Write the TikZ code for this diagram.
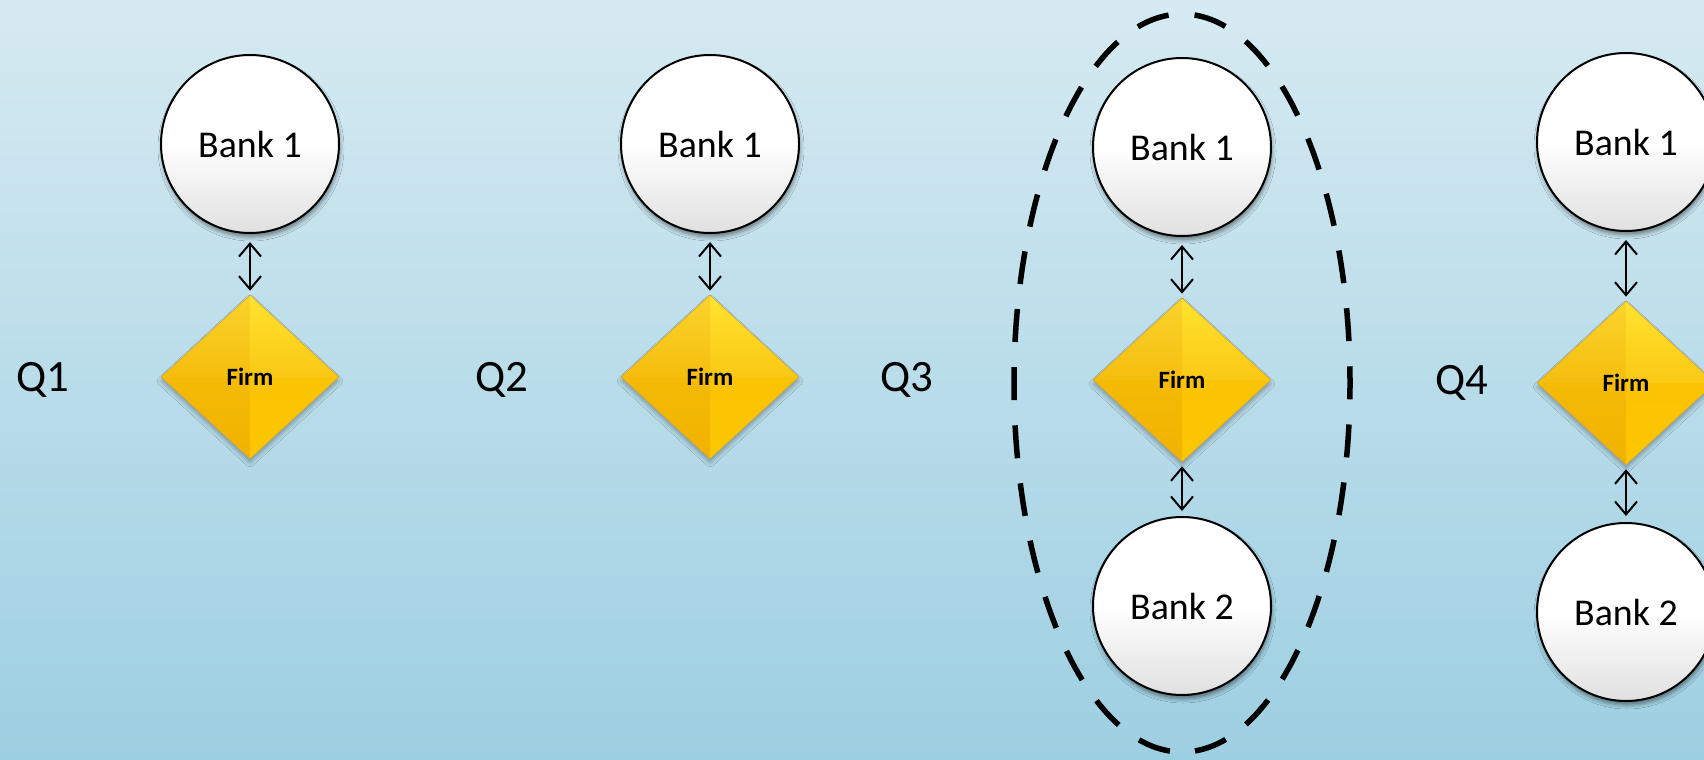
\documentclass[tikz,border=0pt]{standalone}
\usepackage{fontspec}
\setmainfont{Carlito}
\usetikzlibrary{shapes.geometric,arrows.meta,shadows.blur}

\definecolor{bgtop}{RGB}{214,234,242}
\definecolor{bgbot}{RGB}{157,207,226}
\definecolor{bankgrey}{RGB}{224,224,224}
\definecolor{goldedge}{RGB}{200,165,70}
\definecolor{goldbase}{RGB}{248,192,10}
\definecolor{tlA}{RGB}{251,212,44}
\definecolor{tlB}{RGB}{245,189,14}
\definecolor{trA}{RGB}{255,228,48}
\definecolor{trB}{RGB}{250,200,20}
\definecolor{blA}{RGB}{244,186,6}
\definecolor{blB}{RGB}{240,178,0}
\definecolor{brA}{RGB}{250,196,6}
\definecolor{brB}{RGB}{252,198,0}

\tikzset{
  bank/.style={circle, draw=black, line width=2bp, minimum size=178bp,
    inner sep=0pt, top color=white, bottom color=bankgrey, middle color=white,
    font=\fontsize{38}{42}\selectfont,
    blur shadow={shadow xshift=1bp, shadow yshift=-4bp,
      shadow blur radius=4bp, shadow opacity=45}},
  firm/.style={diamond, minimum width=178bp, minimum height=164bp,
    inner sep=0pt, fill=goldbase, draw=goldedge, line width=0.6bp,
    font=\bfseries\fontsize{25}{28}\selectfont,
    blur shadow={shadow xshift=0bp, shadow yshift=-4bp,
      shadow blur radius=4bp, shadow opacity=30},
    path picture={
      \coordinate (pw) at (path picture bounding box.west);
      \coordinate (pe) at (path picture bounding box.east);
      \coordinate (pn) at (path picture bounding box.north);
      \coordinate (ps) at (path picture bounding box.south);
      \coordinate (pc) at (path picture bounding box.center);
      \shade[top color=tlA, bottom color=tlB] (pw) -- (pn) -- (pc) -- cycle;
      \shade[top color=trA, bottom color=trB] (pn) -- (pe) -- (pc) -- cycle;
      \shade[top color=blA, bottom color=blB] (pw) -- (pc) -- (ps) -- cycle;
      \shade[top color=brA, bottom color=brB] (pc) -- (pe) -- (ps) -- cycle;
    }},
  qlabel/.style={font=\fontsize{45}{50}\selectfont},
  biarrow/.style={line width=2bp,
    {Straight Barb[length=13bp,width=22bp]}-{Straight Barb[length=13bp,width=22bp]},
    shorten <=8bp, shorten >=4bp},
  groupring/.style={draw=black, line width=5.5bp,
    dash pattern=on 33bp off 25.2bp, dash phase=45.6bp}
}

\begin{document}
\begin{tikzpicture}[x=1bp, y=-1bp]
  % canvas and background
  \useasboundingbox (0,0) rectangle (1704,760);
  \clip (0,0) rectangle (1704,760);
  \shade[top color=bgtop, bottom color=bgbot] (0,0) rectangle (1704,760);

  % Q1: one bank, one firm
  \node[qlabel] (q1) at (43,380) {Q1};
  \node[bank] (q1b1) at (250,144) {Bank 1};
  \node[firm] (q1f) at (250,377) {Firm};
  \draw[biarrow] (q1b1) -- (q1f);

  % Q2: one bank, one firm
  \node[qlabel] (q2) at (502,380) {Q2};
  \node[bank] (q2b1) at (710,144) {Bank 1};
  \node[firm] (q2f) at (710,377) {Firm};
  \draw[biarrow] (q2b1) -- (q2f);

  % Q3: two banks grouped with the firm
  \node[qlabel] (q3) at (907,380) {Q3};
  \draw[groupring] (1182,14) arc[start angle=-90, end angle=270,
    x radius=168, y radius=369];
  \node[bank] (q3b1) at (1182,147) {Bank 1};
  \node[firm] (q3f) at (1182,380) {Firm};
  \node[bank] (q3b2) at (1182,606) {Bank 2};
  \draw[biarrow] (q3b1) -- (q3f);
  \draw[biarrow, shorten <=4bp, shorten >=5bp] (q3f) -- (q3b2);

  % Q4: two banks, no grouping
  \node[qlabel] (q4) at (1462,383) {Q4};
  \node[bank] (q4b1) at (1626,142) {Bank 1};
  \node[firm] (q4f) at (1626,383) {Firm};
  \node[bank] (q4b2) at (1626,612) {Bank 2};
  \draw[biarrow] (q4b1) -- (q4f);
  \draw[biarrow, shorten <=4bp, shorten >=6bp] (q4f) -- (q4b2);
\end{tikzpicture}
\end{document}
